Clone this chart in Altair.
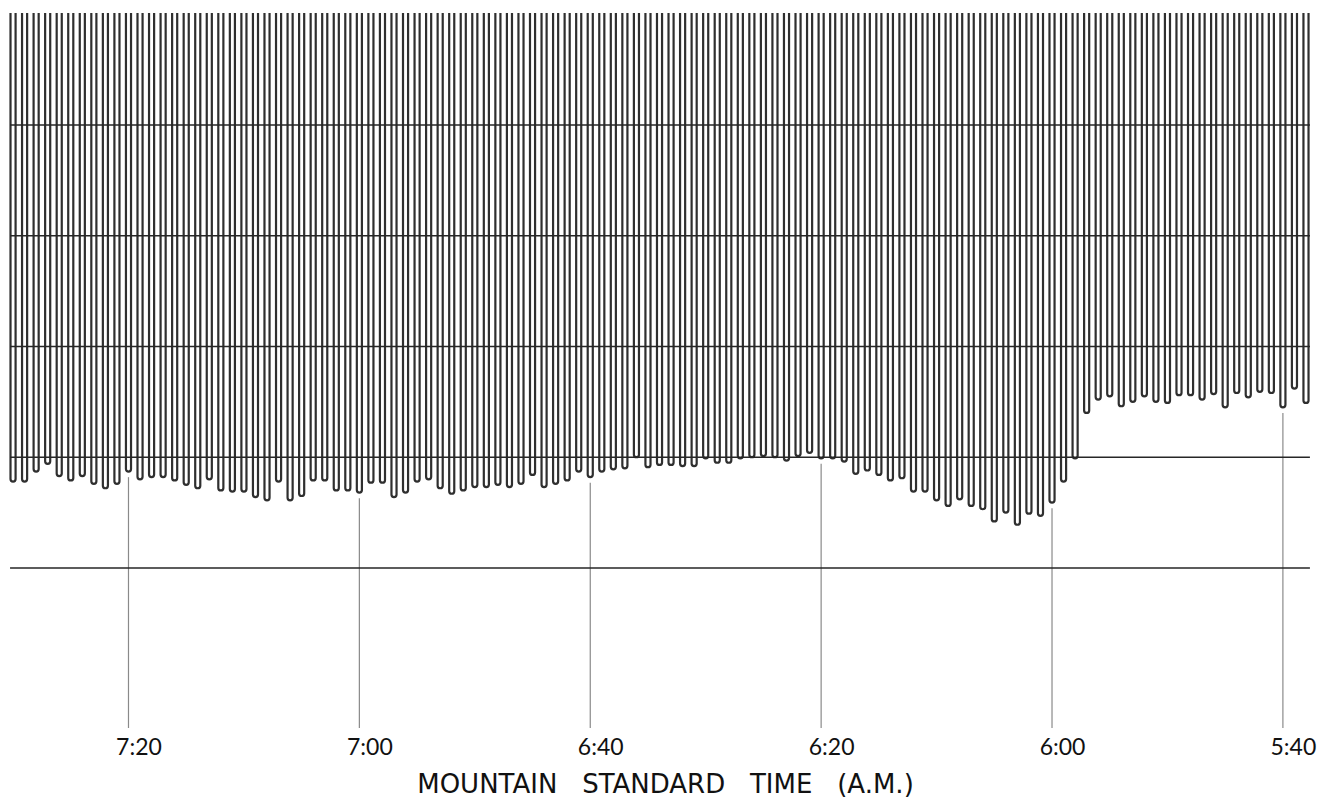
import altair as alt
import pandas as pd

# Pulse bottoms (relative level; horizontal reference lines sit at 0..4),
# one pulse per minute, read left (latest, ~7:30) to right (earliest, ~5:38)
bottoms = [
    0.78, 0.78, 0.87, 0.94, 0.83, 0.79, 0.83, 0.76, 0.72, 0.76,
    0.87, 0.80, 0.82, 0.82, 0.79, 0.75, 0.72, 0.80, 0.70, 0.69,
    0.69, 0.64, 0.61, 0.78, 0.61, 0.65, 0.79, 0.79, 0.70, 0.70,
    0.68, 0.77, 0.77, 0.64, 0.68, 0.78, 0.80, 0.72, 0.67, 0.70,
    0.73, 0.73, 0.75, 0.73, 0.76, 0.84, 0.73, 0.76, 0.79, 0.87,
    0.82, 0.87, 0.89, 0.90, 1.00, 0.91, 0.93, 0.93, 0.92, 0.92,
    0.99, 0.95, 0.95, 0.99, 1.00, 1.01, 1.00, 0.97, 1.01, 1.04,
    0.99, 0.99, 0.96, 0.85, 0.88, 0.84, 0.79, 0.81, 0.69, 0.69,
    0.61, 0.56, 0.62, 0.56, 0.53, 0.42, 0.50, 0.39, 0.49, 0.47,
    0.59, 0.78, 0.99, 1.40, 1.52, 1.55, 1.46, 1.50, 1.55, 1.50,
    1.49, 1.56, 1.56, 1.52, 1.57, 1.45, 1.58, 1.54, 1.59, 1.58,
    1.45, 1.62, 1.49,
]
first_minute = 150  # minutes after 5:00 A.M. of the leftmost pulse
minutes = [first_minute - i for i in range(len(bottoms))]

tick_values = [140, 120, 100, 80, 60, 40]
tick_labels = ["7:20", "7:00", "6:40", "6:20", "6:00", "5:40"]

ref_levels = [0, 1, 2, 3, 4]
ref_start, ref_end = 150.26, 37.66

x_domain = [35.92, 151.13]
y_domain = [-1.445, 5.011]

W, H = 1330, 715

pulses = pd.DataFrame({"t": minutes, "b": bottoms})
pulses["t1"] = pulses["t"] - 0.22
pulses["t2"] = pulses["t"] + 0.22

lookup = dict(zip(minutes, bottoms))
ticks = pd.DataFrame({"t": tick_values, "top": [lookup[v] - 0.05 for v in tick_values]})

refs = pd.DataFrame({"lvl": ref_levels, "x1": ref_start, "x2": ref_end})

label_expr = "''"
for v, l in zip(tick_values, tick_labels):
    label_expr = f"datum.value == {v} ? '{l}' : ({label_expr})"

xscale = alt.Scale(domain=x_domain, reverse=True, nice=False, zero=False)
yscale = alt.Scale(domain=y_domain, nice=False, zero=False)

sp = "\u00a0\u00a0 "
xaxis = alt.Axis(
    values=tick_values, labelExpr=label_expr, domain=False, ticks=False, grid=False,
    labelFont="Lato", labelFontSize=23, labelColor="#111", labelPadding=8, labelOffset=10,
    title=f"MOUNTAIN{sp}STANDARD{sp}TIME{sp}(A.M.)", titleFont="DejaVu Sans",
    titleFontSize=26, titleFontWeight="normal", titleColor="#111", titlePadding=12,
)

tick_rules = alt.Chart(ticks).mark_rule(color="#8a8a8a", strokeWidth=1.2).encode(
    x=alt.X("t:Q", scale=xscale, axis=xaxis),
    y=alt.Y("top:Q", scale=yscale, axis=None),
    y2=alt.value(H),
)

bars = alt.Chart(pulses).mark_bar(
    fill="#ffffff", stroke="#2f2f2f", strokeWidth=2.2,
    cornerRadiusBottomLeft=2.8, cornerRadiusBottomRight=2.8, clip=True,
).encode(
    x=alt.X("t1:Q", scale=xscale),
    x2="t2:Q",
    y=alt.Y("b:Q", scale=yscale),
    y2=alt.value(-6),
)

ref_rules = alt.Chart(refs).mark_rule(color="#262626", strokeWidth=1.6).encode(
    x=alt.X("x1:Q", scale=xscale),
    x2="x2:Q",
    y=alt.Y("lvl:Q", scale=yscale),
)

chart = alt.layer(tick_rules, bars, ref_rules).properties(
    width=W, height=H,
    padding={"left": 0, "top": 13, "right": 0, "bottom": 74},
    autosize=alt.AutoSizeParams(type="none"),
    background="#ffffff",
).configure_view(stroke=None)

chart.save("out.html", embed_options={"renderer": "svg", "actions": False})
